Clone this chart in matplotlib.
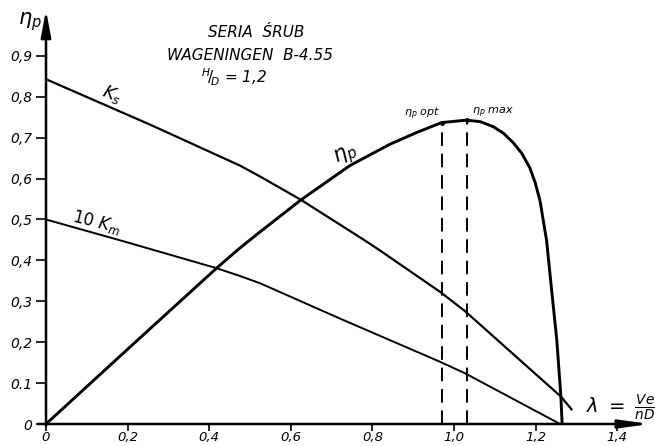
import matplotlib
matplotlib.use('Agg')
import matplotlib.pyplot as plt

# dane (lambda -> wartosc)
lam_eta = [0, 0.198, 0.418, 0.475, 0.525, 0.625, 0.745, 0.843, 0.909, 0.970,
           1.031, 1.065, 1.096, 1.121, 1.145, 1.166, 1.186, 1.199, 1.211, 1.227,
           1.239, 1.252, 1.262, 1.265]
eta = [0, 0.181, 0.381, 0.430, 0.470, 0.548, 0.632, 0.684, 0.713, 0.737,
       0.743, 0.739, 0.727, 0.711, 0.688, 0.662, 0.626, 0.590, 0.545, 0.448,
       0.330, 0.205, 0.067, 0]

lam_ks = [0, 0.255, 0.475, 0.525, 0.625, 0.778, 0.819, 0.966, 1.027, 1.262, 1.288]
ks = [0.843, 0.732, 0.632, 0.605, 0.548, 0.451, 0.424, 0.323, 0.276, 0.067, 0.036]

lam_km = [0, 0.189, 0.418, 0.475, 0.525, 0.720, 0.966, 1.027, 1.260]
km10 = [0.500, 0.447, 0.381, 0.362, 0.344, 0.258, 0.152, 0.124, 0]

lam_opt, eta_opt = 0.970, 0.737
lam_max, eta_max = 1.031, 0.743

x_ticks = [0, 0.2, 0.4, 0.6, 0.8, 1.0, 1.2, 1.4]
x_labels = ['0', '0,2', '0,4', '0,6', '0,8', '1,0', '1,2', '1,4']
y_ticks = [0, 0.1, 0.2, 0.3, 0.4, 0.5, 0.6, 0.7, 0.8, 0.9]
y_labels = ['0', '0.1', '0,2', '0,3', '0,4', '0,5', '0,6', '0,7', '0,8', '0,9']

plt.rcParams['font.family'] = 'DejaVu Sans'
plt.rcParams['mathtext.fontset'] = 'dejavusans'

fig = plt.figure(figsize=(6.55, 4.46), dpi=100)
ax = fig.add_axes([46/655, 22/446, 609/655, 424/446])
ax.set_xlim(0, 609/408)
ax.set_ylim(0, 424/409)
for s in ax.spines.values():
    s.set_visible(False)

# osie ze strzalkami
ax.annotate('', xy=(1.48, 0), xytext=(-0.02, 0),
            arrowprops=dict(arrowstyle='-|>,head_length=1.8,head_width=0.25', lw=1.8,
                            color='k', shrinkA=0, shrinkB=0, mutation_scale=10),
            annotation_clip=False)
ax.annotate('', xy=(0, 1.012), xytext=(0, -0.005),
            arrowprops=dict(arrowstyle='-|>,head_length=1.6,head_width=0.3', lw=1.8,
                            color='k', shrinkA=0, shrinkB=0, mutation_scale=10),
            annotation_clip=False)

ax.set_xticks(x_ticks)
ax.set_xticklabels(x_labels, fontstyle='italic', fontsize=9.5)
ax.set_yticks(y_ticks)
ax.set_yticklabels(y_labels, fontstyle='italic', fontsize=10)
ax.tick_params(axis='y', direction='out', length=7, width=1.2, pad=3)
ax.tick_params(axis='x', direction='out', length=5, width=1.2, pad=0)

# krzywe
ax.plot(lam_ks, ks, 'k', lw=1.6, solid_joinstyle='round')
ax.plot(lam_km, km10, 'k', lw=1.4, solid_joinstyle='round')
ax.plot(lam_eta, eta, 'k', lw=2.1, solid_joinstyle='round')

ax.plot([lam_opt, lam_opt], [0, eta_opt], 'k', lw=1.4, dashes=(7, 4))
ax.plot([lam_max, lam_max], [0, eta_max], 'k', lw=1.4, dashes=(7, 4))
ax.plot([lam_opt, lam_max], [eta_opt, eta_max], 'k.', ms=5)

# opisy
ax.text(0.515, 0.956, 'SERIA  ŚRUB', ha='center', va='center', fontsize=11, fontstyle='italic')
ax.text(0.500, 0.902, 'WAGENINGEN  B-4.55', ha='center', va='center', fontsize=11, fontstyle='italic')
ax.text(0.460, 0.848, r'$^{H}\!/_{\!D}$ = 1,2', ha='center', va='center', fontsize=11, fontstyle='italic')

ax.text(0.162, 0.805, r'$K_s$', rotation=-22, ha='center', va='center', fontsize=13)
ax.text(0.125, 0.494, r'$10\ K_m$', rotation=-14, ha='center', va='center', fontsize=12)
ax.text(0.735, 0.655, r'$\eta_p$', rotation=25, ha='center', va='center', fontsize=15)
ax.text(0.922, 0.758, r'$\eta_p$ opt', ha='center', va='center', fontsize=8, fontstyle='italic')
ax.text(1.096, 0.762, r'$\eta_p$ max', ha='center', va='center', fontsize=8, fontstyle='italic')
ax.text(-0.04, 0.983, r'$\eta_p$', ha='center', va='center', fontsize=15)
ax.text(1.410, 0.040, r'$\lambda\ =\ \frac{Ve}{nD}$', ha='center', va='center', fontsize=14)

fig.savefig('out.png', dpi=100)
